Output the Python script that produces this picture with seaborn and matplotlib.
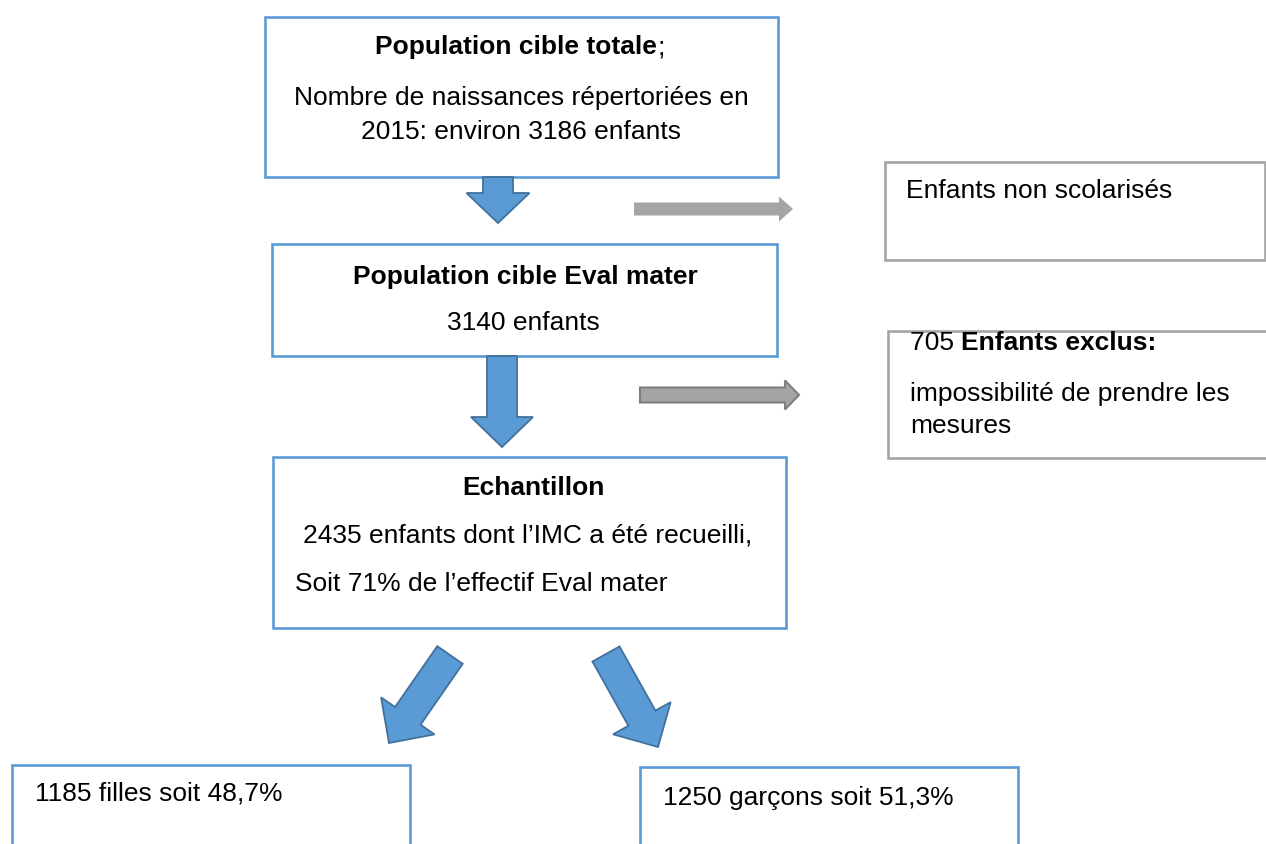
import numpy as np
import matplotlib
matplotlib.use("Agg")
import matplotlib.pyplot as plt
from matplotlib.patches import Rectangle, Polygon
import seaborn as sns

sns.set_theme(style="white")
plt.rcParams['font.family'] = ['Liberation Sans', 'DejaVu Sans']
plt.rcParams['text.color'] = 'black'

# ---- data ----
total_births = 3186
target_eval = 3140
excluded = 705
sample = 2435
sample_pct = 71
girls = 1185
boys = 1250
girls_pct = "48,7"
boys_pct = "51,3"
year = 2015

BLUE = "#5B9BD5"
BLUE_DARK = "#41719C"
GRAY = "#A5A5A5"
GRAY_DARK = "#7F7F7F"
FS = 19

fig = plt.figure(figsize=(12.66, 8.44), dpi=100)
ax = fig.add_axes([0, 0, 1, 1])
ax.set_xlim(0, 1266)
ax.set_ylim(844, 0)
ax.axis("off")


def box(x0, y0, x1, y1, ec):
    ax.add_patch(Rectangle((x0, y0), x1 - x0, y1 - y0, fc="white", ec=ec, lw=1.9, zorder=2))


def block_arrow(start, end, shaft_w, head_w, head_l, fc, ec=None, lw=1.3):
    s = np.array(start, float)
    e = np.array(end, float)
    d = e - s
    L = np.hypot(*d)
    u = d / L
    n = np.array([-u[1], u[0]])
    b = e - u * head_l
    pts = [s + n * shaft_w / 2, b + n * shaft_w / 2, b + n * head_w / 2, e,
           b - n * head_w / 2, b - n * shaft_w / 2, s - n * shaft_w / 2]
    ax.add_patch(Polygon(pts, closed=True, fc=fc, ec=ec if ec else fc,
                         lw=lw if ec else 0, joinstyle="miter", zorder=3))


def text_width(t, r):
    bb = t.get_window_extent(renderer=r)
    inv = ax.transData.inverted()
    return inv.transform((bb.x1, 0))[0] - inv.transform((bb.x0, 0))[0]


def mixed(x, y, parts, center=False):
    fig.canvas.draw()
    r = fig.canvas.get_renderer()
    objs = [ax.text(0, y, txt, fontsize=FS, fontweight=w, ha="left", va="center",
                    color="black", zorder=4) for txt, w in parts]
    widths = [text_width(o, r) for o in objs]
    cur = x - sum(widths) / 2 if center else x
    for o, w in zip(objs, widths):
        o.set_x(cur)
        cur += w


# boxes
box(265, 17, 778, 177, BLUE)
box(272, 244, 777, 356, BLUE)
box(273, 457, 786, 628, BLUE)
box(885, 162, 1265, 260, GRAY)
box(888, 331, 1268, 458, GRAY)
box(12, 765, 410, 850, BLUE)
box(640, 767, 1018, 850, BLUE)

# arrows
block_arrow((498, 177), (498, 223), 30, 63, 30, BLUE, BLUE_DARK)
block_arrow((502, 356), (502, 447), 30, 62, 30, BLUE, BLUE_DARK)
block_arrow((450, 655), (389, 743), 31, 65, 33, BLUE, BLUE_DARK)
block_arrow((606, 654), (658, 747), 31, 66, 33, BLUE, BLUE_DARK)
block_arrow((634, 209), (793, 209), 13, 25, 14, GRAY)
block_arrow((640, 395), (799, 395), 15, 29, 14, GRAY, GRAY_DARK, 1.5)

# texts
mixed(520, 47, [("Population cible totale", "bold"), (";", "normal")], center=True)
ax.text(521, 98, "Nombre de naissances répertoriées en", fontsize=FS, ha="center", va="center")
ax.text(521, 132, f"{year}: environ {total_births} enfants", fontsize=FS, ha="center", va="center")

ax.text(525, 277, "Population cible Eval mater", fontsize=FS, fontweight="bold", ha="center", va="center")
ax.text(523, 323, f"{target_eval} enfants", fontsize=FS, ha="center", va="center")

ax.text(533, 488, "Echantillon", fontsize=FS, fontweight="bold", ha="center", va="center")
ax.text(303, 536, f"{sample} enfants dont l\u2019IMC a été recueilli,", fontsize=FS, ha="left", va="center")
ax.text(295, 584, f"Soit {sample_pct}% de l\u2019effectif Eval mater", fontsize=FS, ha="left", va="center")

ax.text(906, 191, "Enfants non scolarisés", fontsize=FS, ha="left", va="center")
mixed(910, 343, [(f"{excluded} ", "normal"), ("Enfants exclus:", "bold")])
ax.text(910, 394, "impossibilité de prendre les", fontsize=FS, ha="left", va="center")
ax.text(910, 426, "mesures", fontsize=FS, ha="left", va="center")

ax.text(35, 793, f"{girls} filles soit {girls_pct}%", fontsize=FS, ha="left", va="center")
ax.text(663, 798, f"{boys} garçons soit {boys_pct}%", fontsize=FS, ha="left", va="center")

fig.savefig("out.png", dpi=100)
